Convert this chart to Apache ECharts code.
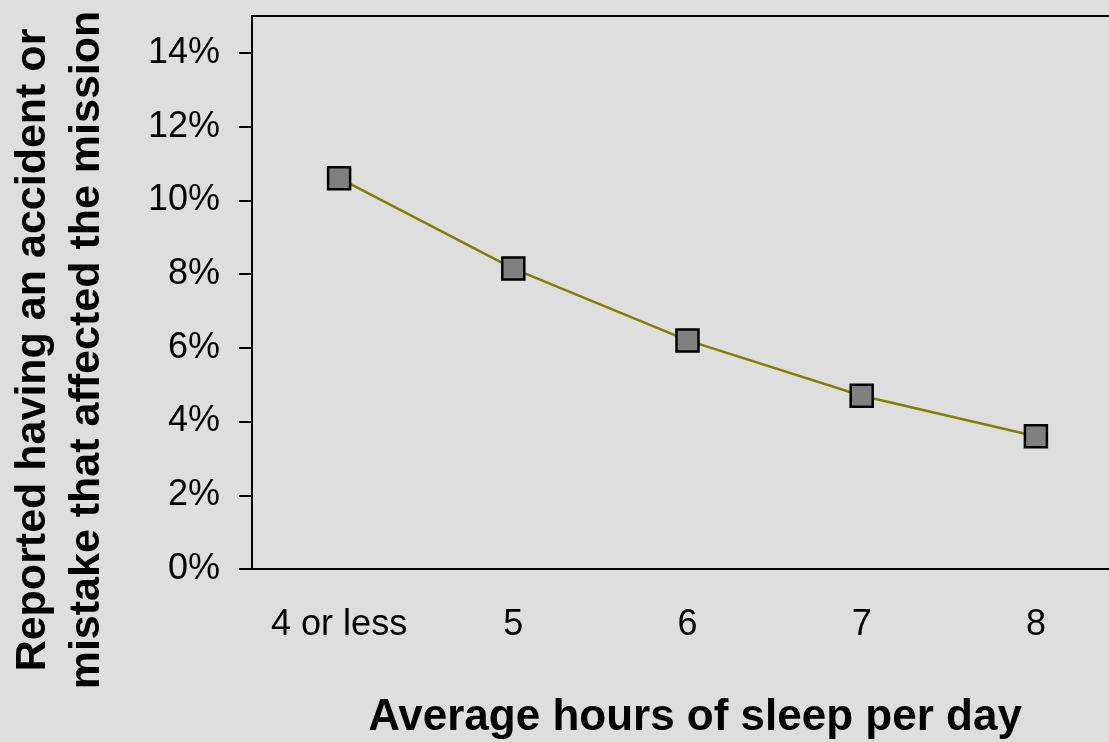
<!DOCTYPE html>
<html>
<head>
<meta charset="utf-8">
<script src="https://cdn.jsdelivr.net/npm/echarts@6/dist/echarts.min.js"></script>
<style>
  html, body { margin: 0; padding: 0; background: #dedede; }
  #chart { width: 1109px; height: 742px; }
</style>
</head>
<body>
<div id="chart"></div>
<script>
var hours = ['4 or less', '5', '6', '7', '8'],
    accidents = [10.6, 8.15, 6.2, 4.7, 3.6],
    yTicks = [0, 2, 4, 6, 8, 10, 12, 14];

var font = '"Liberation Sans", Arial, sans-serif';

var chart = echarts.init(document.getElementById('chart'));
chart.setOption({
    backgroundColor: '#dedede',
    animation: false,
    grid: {
        left: 252, top: 16, height: 553, width: 871,
        outerBoundsMode: 'none',
        containLabel: false,
        show: true, borderColor: '#000', borderWidth: 2,
        backgroundColor: 'transparent'
    },
    xAxis: {
        type: 'category',
        data: hours,
        boundaryGap: true,
        axisLine: { lineStyle: { color: '#000', width: 2 } },
        axisTick: { show: false },
        axisLabel: { color: '#000', fontSize: 36, fontFamily: font, margin: 38, interval: 0 }
    },
    yAxis: {
        type: 'value',
        min: 0, max: 15, interval: 2,
        splitLine: { show: false },
        axisLine: { show: true, lineStyle: { color: '#000', width: 2 } },
        axisTick: { show: true, length: 13, customValues: yTicks, lineStyle: { color: '#000', width: 2 } },
        axisLabel: {
            color: '#000', fontSize: 36, fontFamily: font, margin: 32,
            customValues: yTicks,
            formatter: function (v) { return v + '%'; }
        }
    },
    graphic: [
        {
            type: 'text', x: 695, y: 718,
            style: {
                text: 'Average hours of sleep per day',
                font: 'bold 44px ' + font, fill: '#000',
                textAlign: 'center', textVerticalAlign: 'middle'
            }
        },
        {
            type: 'text', x: 60, y: 350, rotation: Math.PI / 2,
            style: {
                text: 'Reported having an accident or\nmistake that affected the mission',
                font: 'bold 43px ' + font, fill: '#000', lineHeight: 54,
                textAlign: 'center', textVerticalAlign: 'middle'
            }
        }
    ],
    series: [{
        type: 'line',
        data: accidents,
        symbol: 'rect',
        symbolSize: 22,
        lineStyle: { color: '#808000', width: 2.5 },
        itemStyle: { color: '#808080', borderColor: '#000', borderWidth: 2.5 }
    }]
});
</script>
</body>
</html>
